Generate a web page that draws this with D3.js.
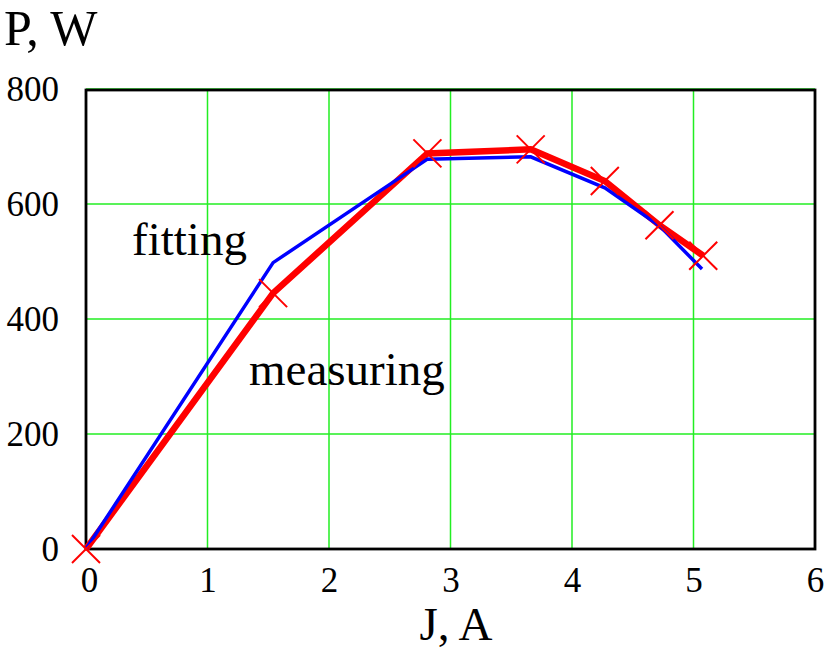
<!DOCTYPE html>
<html>
<head>
<meta charset="utf-8">
<script src="https://cdn.jsdelivr.net/npm/d3@7"></script>
<style>
  html, body { margin: 0; padding: 0; background: #fff; }
  svg { display: block; }
  text { font-family: "Liberation Serif", "Times New Roman", serif; fill: #000; }
</style>
</head>
<body>
<svg id="chart" width="825" height="655"></svg>
<script>
// Current J (A) and power P (W)
const measuredJ = [0, 1.54, 2.81, 3.66, 4.27, 4.72, 5.08];
const measuredP = [0, 445, 688, 695, 640, 563, 510];
const fittedJ = [0, 1.54, 2.81, 3.66, 4.27, 4.72, 5.07];
const fittedP = [0, 498, 678, 682, 628, 562, 487];
const xTicks = [0, 1, 2, 3, 4, 5, 6];
const yTicks = [0, 200, 400, 600, 800];

const svg = d3.select("#chart");
const plotLeft = 86, plotRight = 815, plotTop = 89, plotBottom = 549;

const x = d3.scaleLinear().domain([0, 6]).range([plotLeft, plotRight]);
const y = d3.scaleLinear().domain([0, 800]).range([plotBottom, plotTop]);

// grid
const grid = svg.append("g");
grid.selectAll("line.v").data(xTicks).join("line")
  .attr("x1", d => x(d)).attr("x2", d => x(d))
  .attr("y1", plotTop).attr("y2", plotBottom)
  .attr("stroke", "#22ee22").attr("stroke-width", 1.5);
grid.selectAll("line.h").data(yTicks).join("line")
  .attr("x1", plotLeft).attr("x2", plotRight)
  .attr("y1", d => y(d)).attr("y2", d => y(d))
  .attr("stroke", "#22ee22").attr("stroke-width", 1.5);

// frame
svg.append("rect")
  .attr("x", plotLeft).attr("y", plotTop + 1)
  .attr("width", plotRight - plotLeft).attr("height", plotBottom - plotTop - 1)
  .attr("fill", "none").attr("stroke", "#000").attr("stroke-width", 2.8);

// axis labels
const xAxis = d3.axisBottom(x).tickValues(xTicks).tickSize(0).tickPadding(0).tickFormat(d3.format("d"));
const gx = svg.append("g").attr("transform", `translate(0,${plotBottom})`).call(xAxis);
gx.select(".domain").remove();
gx.selectAll("text").attr("dy", null).attr("y", 43)
  .attr("dx", d => d === 0 ? 3 : 0)
  .style("font-size", "35px").style("font-family", "Liberation Serif").attr("fill", "#000");

const yAxis = d3.axisLeft(y).tickValues(yTicks).tickSize(0).tickPadding(0).tickFormat(d3.format("d"));
const gy = svg.append("g").attr("transform", `translate(${plotLeft - 27},0)`).call(yAxis);
gy.select(".domain").remove();
gy.selectAll("text").attr("dy", "0.33em").attr("x", 0)
  .style("font-size", "35px").style("font-family", "Liberation Serif").attr("fill", "#000");

// series
const measured = measuredJ.map((j, i) => [j, measuredP[i]]);
const fitted = fittedJ.map((j, i) => [j, fittedP[i]]);
const line = d3.line().x(d => x(d[0])).y(d => y(d[1]));

svg.append("path").datum(measured).attr("d", line)
  .attr("fill", "none").attr("stroke", "#ff0000").attr("stroke-width", 6.5)
  .attr("stroke-linejoin", "miter");

svg.append("path").datum(fitted).attr("d", line)
  .attr("fill", "none").attr("stroke", "#0000ff").attr("stroke-width", 3.5)
  .attr("stroke-linejoin", "miter");

// cross markers on measured points
const s = 14;
const marks = svg.append("g").selectAll("g").data(measured).join("g")
  .attr("transform", d => `translate(${x(d[0])},${y(d[1])})`);
marks.append("line").attr("x1", -s).attr("y1", -s).attr("x2", s).attr("y2", s)
  .attr("stroke", "#ff0000").attr("stroke-width", 2);
marks.append("line").attr("x1", -s).attr("y1", s).attr("x2", s).attr("y2", -s)
  .attr("stroke", "#ff0000").attr("stroke-width", 2);

// titles and annotations
svg.append("text").attr("x", 4).attr("y", 45).style("font-size", "50px").text("P, W");
svg.append("text").attr("x", 456).attr("y", 640).attr("text-anchor", "middle").style("font-size", "47px").text("J, A");
svg.append("text").attr("x", 132).attr("y", 255).style("font-size", "47px").text("fitting");
svg.append("text").attr("x", 249).attr("y", 385).style("font-size", "47px").text("measuring");
</script>
</body>
</html>
